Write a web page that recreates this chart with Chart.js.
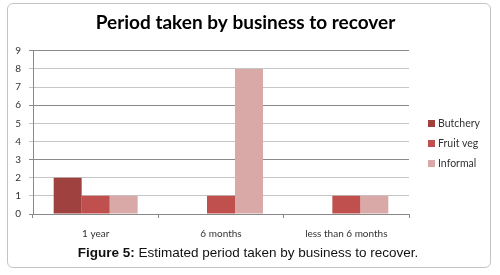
<!DOCTYPE html>
<html>
<head>
<meta charset="utf-8">
<script src="https://cdn.jsdelivr.net/npm/chart.js@4.4.0/dist/chart.umd.min.js"></script>
<style>
  html, body { margin: 0; padding: 0; background: #fff; }
  #wrap { position: relative; width: 500px; height: 275px; overflow: hidden; }
  #frame {
    position: absolute; left: 7px; top: 3px; width: 482px; height: 263px;
    border: 1px solid #c4c4c4; border-radius: 6px;
  }
  #chart { position: absolute; left: 0; top: 0; }
  #legend { position: absolute; left: 428px; top: 116px; font: 10.5px Lato, sans-serif; color: #333; }
  #legend div { height: 20px; line-height: 14px; white-space: nowrap; }
  #legend span { display: inline-block; width: 7px; height: 7px; margin-right: 3px; vertical-align: 0px; }
  #caption {
    position: absolute; left: 0; width: 496px; top: 245px; text-align: center;
    font: 13.5px "Liberation Sans", Arial, sans-serif; color: #111;
  }
</style>
</head>
<body>
<div id="wrap">
  <div id="frame"></div>
  <canvas id="chart" width="491" height="255" style="width:491px;height:255px"></canvas>
  <div id="legend"></div>
  <div id="caption"><b>Figure 5:</b> Estimated period taken by business to recover.</div>
</div>
<script>
const categories = ['1 year', '6 months', 'less than 6 months'];
const butchery = [2, 0, 0];
const fruitVeg = [1, 1, 1];
const informal = [1, 8, 1];
const yTicks = [0, 1, 2, 3, 4, 5, 6, 7, 8, 9];

const seriesColors = ['#9E413F', '#C0504D', '#D9A9A8'];

const ctx = document.getElementById('chart').getContext('2d');
const chart = new Chart(ctx, {
  type: 'bar',
  data: {
    labels: categories,
    datasets: [
      { label: 'Butchery', data: butchery, backgroundColor: seriesColors[0] },
      { label: 'Fruit veg', data: fruitVeg, backgroundColor: seriesColors[1] },
      { label: 'Informal', data: informal, backgroundColor: seriesColors[2] }
    ]
  },
  options: {
    responsive: false,
    animation: false,
    layout: { padding: { left: 0, right: 0, bottom: 5 } },
    datasets: {
      bar: { categoryPercentage: 0.67, barPercentage: 1.0, borderWidth: 0 }
    },
    plugins: {
      legend: { display: false },
      tooltip: { enabled: false },
      title: {
        display: true,
        text: 'Period taken by business to recover',
        color: '#000',
        font: { family: 'Lato', size: 19, weight: 'bold' },
        padding: { top: 11, bottom: 17 }
      }
    },
    scales: {
      x: {
        grid: {
          offset: true,
          drawOnChartArea: false,
          tickLength: 4,
          color: '#888'
        },
        border: { color: '#888' },
        ticks: {
          color: '#333',
          padding: 10,
          font: { family: 'Lato', size: 10 }
        }
      },
      y: {
        min: 0,
        max: 9,
        afterBuildTicks: (scale) => { scale.ticks = yTicks.map(v => ({ value: v })); },
        afterFit: (scale) => { scale.width = 33; },
        grid: {
          tickLength: 4,
          color: (c) => (c.tick && c.tick.value % 3 === 0) ? '#8a8a8a' : '#c6c6c6'
        },
        border: { color: '#888' },
        ticks: {
          color: '#333',
          padding: 8,
          font: { family: 'Lato', size: 10 }
        }
      },
      // empty room on the right where the legend sits
      legendSpace: {
        type: 'linear',
        position: 'right',
        grid: { display: false },
        border: { display: false },
        ticks: { display: false },
        afterFit: (scale) => { scale.width = 82; }
      }
    }
  }
});

// legend built from the datasets
const legendEl = document.getElementById('legend');
chart.data.datasets.forEach(ds => {
  const row = document.createElement('div');
  const sw = document.createElement('span');
  sw.style.background = ds.backgroundColor;
  row.appendChild(sw);
  row.appendChild(document.createTextNode(ds.label));
  legendEl.appendChild(row);
});
</script>
</body>
</html>
